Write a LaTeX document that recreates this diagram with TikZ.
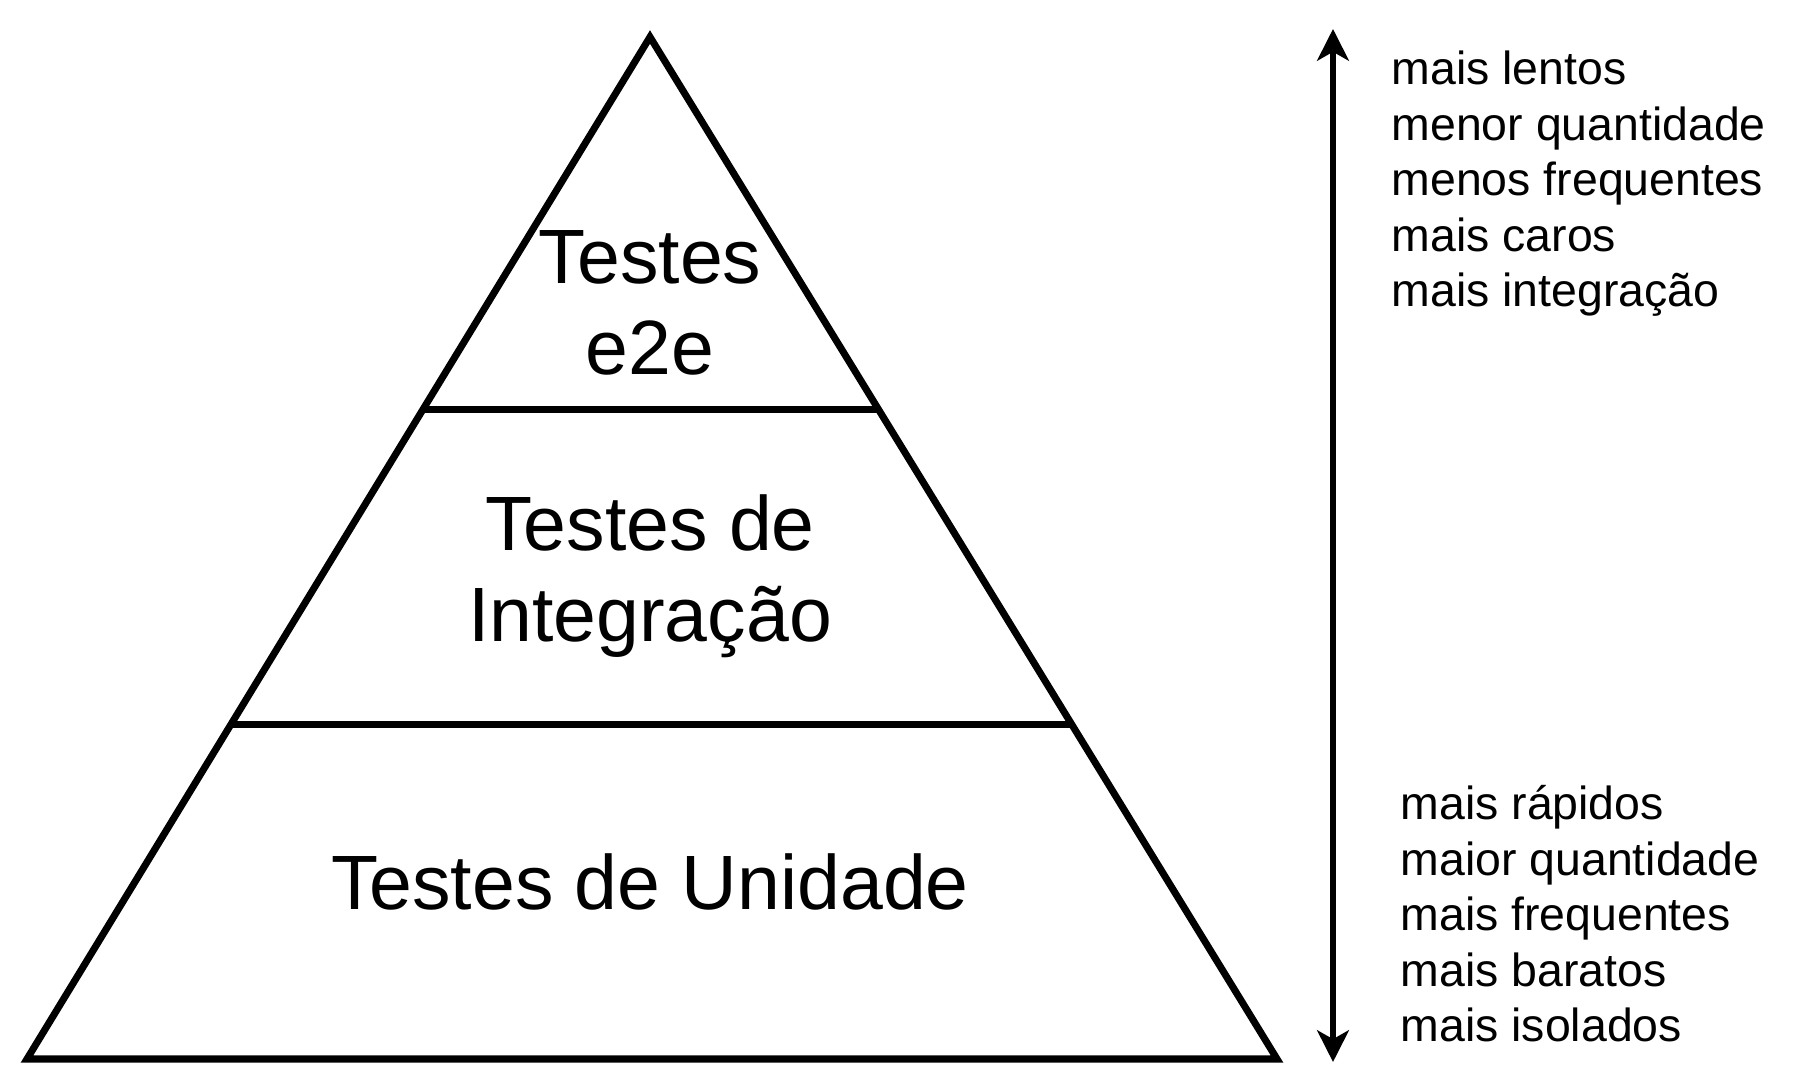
\documentclass[tikz,border=0pt]{standalone}
\usepackage{fontspec}
\setmainfont{Liberation Sans}
\usetikzlibrary{calc,arrows.meta}
\begin{document}
\begin{tikzpicture}
[x=0.01cm,y=-0.01cm,
every node/.style={inner sep=0pt},
layer/.style={font=\fontsize{21.9pt}{25.9pt}\selectfont,align=center,anchor=base},
note/.style={font=\fontsize{13.2pt}{15.8pt}\selectfont,align=left,anchor=base west},
edge/.style={line width=2pt,line join=miter},
scalearrow/.style={line width=1.8pt,>={Stealth[length=9pt,width=9pt,inset=2.5pt]},<->}]
\useasboundingbox (0,0) rectangle (1796,1074);
\coordinate (apex) at (650,37);
\coordinate (bl) at (27,1059);
\coordinate (br) at (1277,1059);
\coordinate (cut1l) at ($(apex)!0.3645!(bl)$);
\coordinate (cut1r) at ($(apex)!0.3645!(br)$);
\coordinate (cut2l) at ($(apex)!0.673!(bl)$);
\coordinate (cut2r) at ($(apex)!0.673!(br)$);
\draw[edge] (apex) -- (bl) -- (br) -- cycle;
\draw[edge] (cut1l) -- (cut1r);
\draw[edge] (cut2l) -- (cut2r);
\node[layer] (e2e) at (650,375) {Testes\\e2e};
\node[layer] (integ) at (650,642) {Testes de\\Integração};
\node[layer] (unit) at (650,910) {Testes de Unidade};
\coordinate (up) at (1333,29);
\coordinate (down) at (1333,1062);
\draw[scalearrow] (down) -- (up);
\node[note] (slow) at (1391,307) {mais lentos\\menor quantidade\\menos frequentes\\mais caros\\mais integração};
\node[note] (fast) at (1400,1042) {mais rápidos\\maior quantidade\\mais frequentes\\mais baratos\\mais isolados};
\end{tikzpicture}
\end{document}
